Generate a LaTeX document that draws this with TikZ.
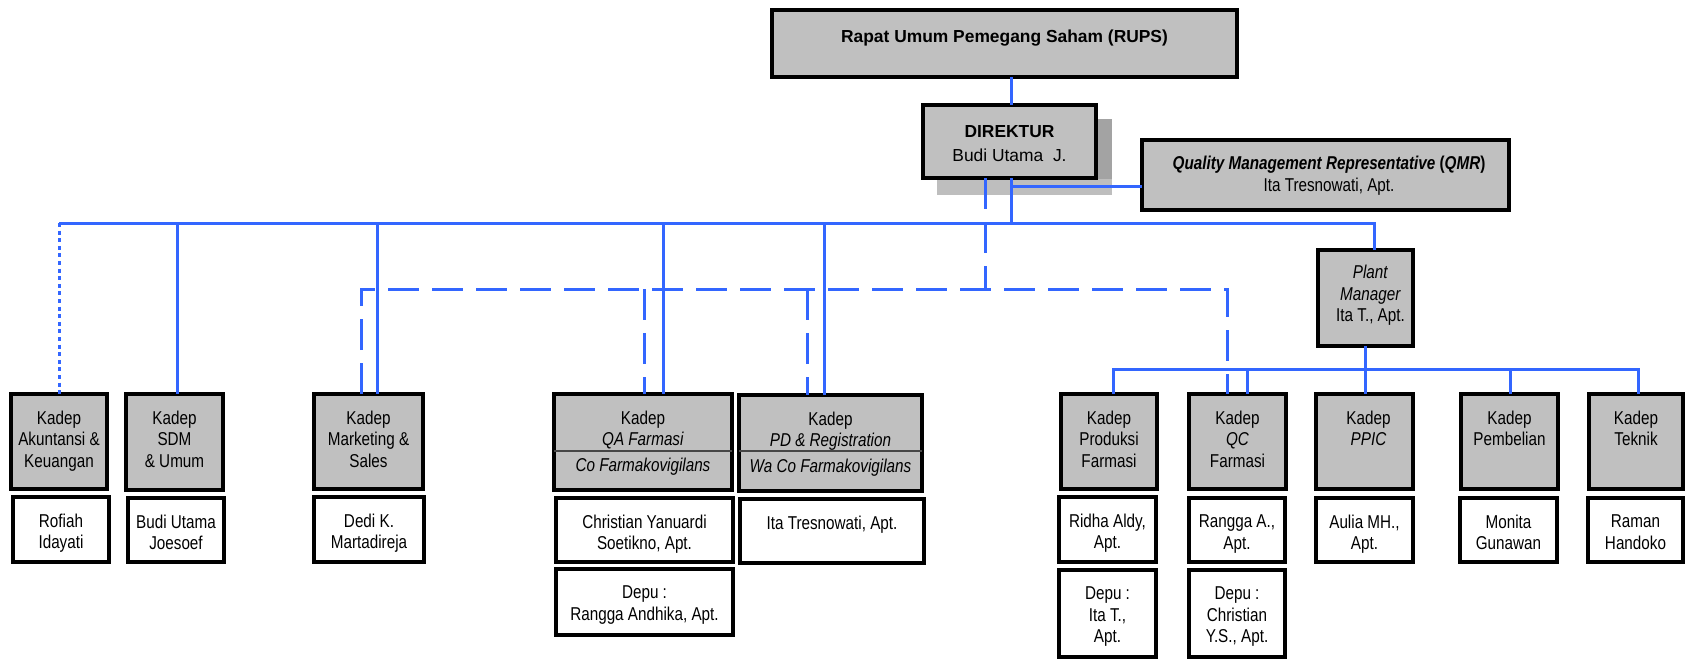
\documentclass[tikz,border=0pt]{standalone}
\usepackage{fontspec}
\setmainfont{Liberation Sans}
\newfontfamily\narrowf{Liberation Sans}[FakeStretch=0.82]
\usetikzlibrary{fit}
\definecolor{bl}{RGB}{51,102,255}
\definecolor{boxgray}{RGB}{192,192,192}
\definecolor{shlight}{RGB}{190,190,190}
\definecolor{shdark}{RGB}{163,163,163}
\definecolor{divgray}{RGB}{70,70,70}
\newcommand\mybox[6]{\node[#2, fit={(#3+1,#4+1)(#5-1,#6-1)}] (#1) {};}
\begin{document}
\begin{tikzpicture}[x=0.5pt,y=-0.5pt,
  bx/.style={draw=black, line width=2pt, inner sep=0pt, outer sep=0pt},
  gbx/.style={bx, fill=boxgray},
  wbx/.style={bx, fill=white},
  ntxt/.style={anchor=north, inner sep=0pt, align=center, font=\narrowf\fontsize{9.3}{10.7}\selectfont},
  atxt/.style={anchor=north, inner sep=0pt, align=center, font=\fontsize{8.7}{12.2}\selectfont},
  link/.style={draw=bl, line width=1.5pt},
  dashl/.style={link, dash pattern=on 15.5pt off 6.5pt},
  dotl/.style={link, dash pattern=on 2pt off 1.8pt},
  ]
\useasboundingbox (0,0) rectangle (1686,660);

% shadow of the director box
\fill[shlight] (937,119) rectangle (1112,195);
\fill[shdark] (1096,119) rectangle (1112,179);

% level coordinates
\coordinate (yb) at (0,223);
\coordinate (yd) at (0,289);
\coordinate (ys) at (0,369);
\coordinate (yq) at (0,186);
\coordinate (ydv) at (0,451);
\coordinate (xd) at (1011,0);
\coordinate (xdd) at (985,0);
\coordinate (xpm) at (1374,0);
\coordinate (x377) at (377,0);
\coordinate (x361) at (361,0);
\coordinate (x644) at (644,0);
\coordinate (x663) at (663,0);
\coordinate (x807) at (807,0);
\coordinate (x824) at (824,0);
\coordinate (x1227) at (1227,0);
\coordinate (x1247) at (1247,0);
\coordinate (x1113) at (1113,0);
\coordinate (x1365) at (1365,0);
\coordinate (x1510) at (1510,0);
\coordinate (x1638) at (1638,0);
\coordinate (x177) at (177,0);

% top boxes
\mybox{rups}{gbx}{771}{9}{1238}{78}
\mybox{dir}{gbx}{922}{104}{1097}{179}
\mybox{qmr}{gbx}{1141}{139}{1510}{211}
\mybox{pm}{gbx}{1317}{249}{1414}{347}
% department boxes
\mybox{akun}{gbx}{10}{393}{108}{490}
\mybox{sdm}{gbx}{125}{393}{224}{491}
\mybox{mkt}{gbx}{313}{393}{424}{490}
\mybox{qa}{gbx}{553}{393}{733}{491}
\mybox{pd}{gbx}{738}{394}{923}{492}
\mybox{prod}{gbx}{1060}{393}{1158}{490}
\mybox{qc}{gbx}{1188}{393}{1287}{490}
\mybox{ppic}{gbx}{1315}{393}{1414}{490}
\mybox{pemb}{gbx}{1460}{393}{1559}{490}
\mybox{tek}{gbx}{1588}{393}{1684}{490}
% name boxes
\mybox{rof}{wbx}{12}{496}{110}{563}
\mybox{budi}{wbx}{127}{497}{225}{563}
\mybox{dedi}{wbx}{313}{496}{425}{563}
\mybox{chris}{wbx}{555}{497}{734}{563}
\mybox{depr}{wbx}{555}{568}{734}{636}
\mybox{ita}{wbx}{739}{498}{925}{564}
\mybox{ridha}{wbx}{1058}{496}{1157}{563}
\mybox{depi}{wbx}{1058}{569}{1157}{658}
\mybox{rangga}{wbx}{1188}{497}{1286}{563}
\mybox{depc}{wbx}{1188}{569}{1286}{658}
\mybox{aulia}{wbx}{1315}{497}{1414}{563}
\mybox{monita}{wbx}{1459}{497}{1558}{563}
\mybox{raman}{wbx}{1587}{497}{1684}{563}

% dividers
\draw[divgray, line width=0.6pt] (qa.west |- ydv) -- (qa.east |- ydv);
\draw[divgray, line width=0.6pt] (pd.west |- ydv) -- (pd.east |- ydv);

% texts
\node[atxt] (rupsT) at ([yshift=-9.5pt]rups.north) {\textbf{Rapat Umum Pemegang Saham (RUPS)}};
\node[atxt] (dirT) at ([yshift=-9.9pt]dir.north) {\textbf{DIREKTUR}\\Budi Utama\ \ J.};
\node[ntxt] (qmrT) at ([xshift=1.75pt,yshift=-8pt]qmr.north) {\textbf{\textit{Quality Management Representative} (\textit{QMR})}\\Ita Tresnowati, Apt.};
\node[ntxt] (pmT) at ([xshift=2.5pt,yshift=-7.5pt]pm.north) {\textit{Plant}\\\textit{Manager}\\Ita T., Apt.};

\node[ntxt] (akunT) at ([yshift=-8.3pt]akun.north) {Kadep\\Akuntansi \&\\Keuangan};
\node[ntxt] (sdmT) at ([yshift=-8.3pt]sdm.north) {Kadep\\SDM\\\& Umum};
\node[ntxt] (mktT) at ([yshift=-8.3pt]mkt.north) {Kadep\\Marketing \&\\Sales};
\node[ntxt] (qaT) at ([yshift=-8.3pt]qa.north) {Kadep\\\textit{QA Farmasi}};
\node[ntxt] (qaC) at ([yshift=-31.6pt]qa.north) {\textit{Co Farmakovigilans}};
\node[ntxt] (pdT) at ([yshift=-8.3pt]pd.north) {Kadep\\\textit{PD \& Registration}};
\node[ntxt] (pdC) at ([yshift=-31.6pt]pd.north) {\textit{Wa Co Farmakovigilans}};
\node[ntxt] (prodT) at ([yshift=-8.3pt]prod.north) {Kadep\\Produksi\\Farmasi};
\node[ntxt] (qcT) at ([yshift=-8.3pt]qc.north) {Kadep\\\textit{QC}\\Farmasi};
\node[ntxt] (ppicT) at ([xshift=2pt,yshift=-8.3pt]ppic.north) {Kadep\\\textit{PPIC}};
\node[ntxt] (pembT) at ([yshift=-8.3pt]pemb.north) {Kadep\\Pembelian};
\node[ntxt] (tekT) at ([yshift=-8.3pt]tek.north) {Kadep\\Teknik};

\node[ntxt] (rofT) at ([yshift=-8.3pt]rof.north) {Rofiah\\Idayati};
\node[ntxt] (budiT) at ([yshift=-8.3pt]budi.north) {Budi Utama\\Joesoef};
\node[ntxt] (dediT) at ([yshift=-8.3pt]dedi.north) {Dedi K.\\Martadireja};
\node[ntxt] (chrisT) at ([yshift=-8.3pt]chris.north) {Christian Yanuardi\\Soetikno, Apt.};
\node[ntxt] (deprT) at ([yshift=-8.3pt]depr.north) {Depu :\\Rangga Andhika, Apt.};
\node[ntxt] (itaT) at ([yshift=-8.3pt]ita.north) {Ita Tresnowati, Apt.};
\node[ntxt] (ridhaT) at ([yshift=-8.3pt]ridha.north) {Ridha Aldy,\\Apt.};
\node[ntxt] (depiT) at ([yshift=-8.3pt]depi.north) {Depu :\\Ita T.,\\Apt.};
\node[ntxt] (ranggaT) at ([yshift=-8.3pt]rangga.north) {Rangga A.,\\Apt.};
\node[ntxt] (depcT) at ([yshift=-8.3pt]depc.north) {Depu :\\Christian\\Y.S., Apt.};
\node[ntxt] (auliaT) at ([yshift=-8.3pt]aulia.north) {Aulia MH.,\\Apt.};
\node[ntxt] (monitaT) at ([yshift=-8.3pt]monita.north) {Monita\\Gunawan};
\node[ntxt] (ramanT) at ([yshift=-8.3pt]raman.north) {Raman\\Handoko};

% solid connectors
\draw[link] (rups.south -| xd) -- (dir.north -| xd);
\draw[link] (dir.south -| xd) -- (yb -| xd);
\draw[link] (yq -| xd) -- (qmr.west |- yq);
\draw[link] (akun.north |- yb) -- (yb -| xpm) -- (pm.north -| xpm);
\draw[dotl] (akun.north |- yb) -- (akun.north);
\draw[link] (yb -| x177) -- (sdm.north -| x177);
\draw[link] (yb -| x377) -- (mkt.north -| x377);
\draw[link] (yb -| x663) -- (qa.north -| x663);
\draw[link] (yb -| x824) -- (pd.north -| x824);

% dashed connectors
\draw[dashl] (mkt.north -| x361) -- (yd -| x361) -- (yd -| x1227) -- (qc.north -| x1227);
\draw[dashl] (dir.south -| xdd) -- (yd -| xdd);
\draw[dashl] (yd -| x644) -- (qa.north -| x644);
\draw[dashl] (yd -| x807) -- (pd.north -| x807);

% plant manager branch
\draw[link] (pm.south -| x1365) -- (ys -| x1365);
\draw[link] (prod.north -| x1113) -- (ys -| x1113) -- (ys -| x1638) -- (tek.north -| x1638);
\draw[link] (ys -| x1247) -- (qc.north -| x1247);
\draw[link] (ys -| x1365) -- (ppic.north -| x1365);
\draw[link] (ys -| x1510) -- (pemb.north -| x1510);
\end{tikzpicture}
\end{document}
